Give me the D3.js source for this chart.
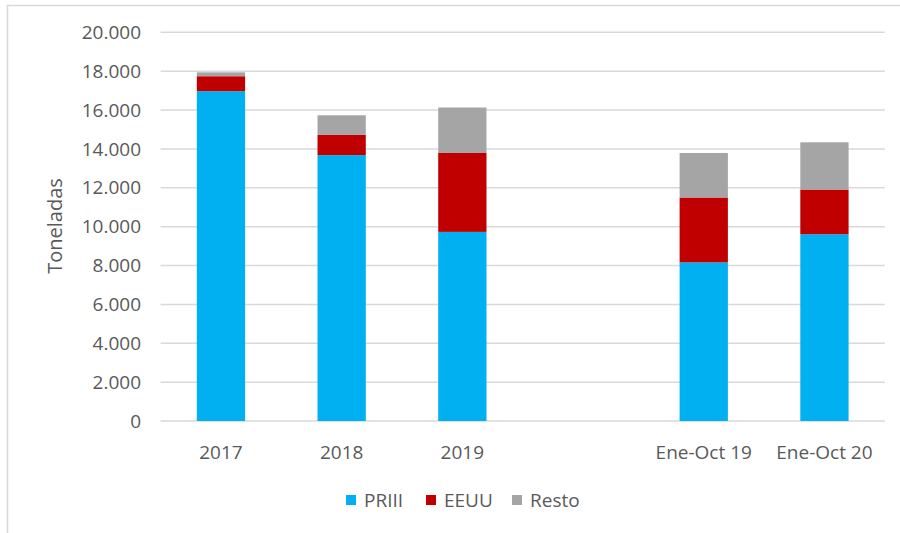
<!DOCTYPE html>
<html>
<head>
<meta charset="utf-8">
<script src="https://cdn.jsdelivr.net/npm/d3@7"></script>
<style>
  body { margin: 0; background: #fff; }
  text { font-family: "Open Sans", sans-serif; fill: #595959; }
</style>
</head>
<body>
<svg width="900" height="533"></svg>
<script>
var WIDTH = 900,
  HEIGHT = 533;

var categories = ["2017", "2018", "2019", " ", "Ene-Oct 19", "Ene-Oct 20"];
var priii = [16970, 13680, 9730, 0, 8160, 9610];
var eeuu = [770, 1040, 4060, 0, 3340, 2300];
var resto = [200, 1010, 2340, 0, 2290, 2430];
var seriesNames = ["PRIII", "EEUU", "Resto"];
var seriesColors = ["#00b0f0", "#c00000", "#a5a5a5"];
var yTicks = [0, 2000, 4000, 6000, 8000, 10000, 12000, 14000, 16000, 18000, 20000];

var svg = d3.select("svg");

var x = d3.scaleBand()
  .domain(categories)
  .range([160.6, 884.8])
  .paddingInner(0.6)
  .paddingOuter(0.3);

var y = d3.scaleLinear()
  .domain([0, 20000])
  .range([421, 32.3]);

// outer chart border (only top and left show)
svg.append("path")
  .attr("d", "M7.5,533 V5.5 H900")
  .attr("fill", "none")
  .attr("stroke", "#d9d9d9")
  .attr("stroke-width", 1.5);

// gridlines
svg.append("g")
  .selectAll("line")
  .data(yTicks)
  .join("line")
  .attr("x1", 160.6)
  .attr("x2", 884.8)
  .attr("y1", d => y(d))
  .attr("y2", d => y(d))
  .attr("stroke", "#d9d9d9")
  .attr("stroke-width", 1.5);

// y tick labels
var fmt = d => d === 0 ? "0" : d3.format(",")(d).replace(/,/g, ".");
svg.append("g")
  .selectAll("text")
  .data(yTicks)
  .join("text")
  .attr("x", 141)
  .attr("y", d => y(d))
  .attr("dy", "0.35em")
  .attr("text-anchor", "end")
  .style("font-size", "19px")
  .text(fmt);

// stacked bars
var rows = categories.map(function (c, i) {
  return { cat: c, PRIII: priii[i], EEUU: eeuu[i], Resto: resto[i] };
});
var stacked = d3.stack().keys(seriesNames)(rows);

svg.append("g")
  .selectAll("g")
  .data(stacked)
  .join("g")
  .attr("fill", (d, i) => seriesColors[i])
  .selectAll("rect")
  .data(d => d.filter(s => s[1] > s[0]))
  .join("rect")
  .attr("x", d => x(d.data.cat))
  .attr("width", x.bandwidth())
  .attr("y", d => y(d[1]))
  .attr("height", d => y(d[0]) - y(d[1]));

// x labels
svg.append("g")
  .selectAll("text")
  .data(categories)
  .join("text")
  .attr("x", d => x(d) + x.bandwidth() / 2)
  .attr("y", 452)
  .attr("dy", "0.35em")
  .attr("text-anchor", "middle")
  .style("font-size", "19px")
  .text(d => d.trim());

// axis title
svg.append("text")
  .attr("transform", "translate(55,226) rotate(-90)")
  .attr("dy", "0.35em")
  .attr("text-anchor", "middle")
  .style("font-size", "20px")
  .text("Toneladas");

// legend
var legendX = [346, 426, 512];
var legend = svg.append("g")
  .selectAll("g")
  .data(seriesNames)
  .join("g")
  .attr("transform", (d, i) => "translate(" + legendX[i] + ",500)");
legend.append("rect")
  .attr("x", 0)
  .attr("y", -5)
  .attr("width", 10)
  .attr("height", 10)
  .attr("fill", (d, i) => seriesColors[i]);
legend.append("text")
  .attr("x", 18)
  .attr("dy", "0.35em")
  .style("font-size", "19px")
  .text(d => d);
</script>
</body>
</html>
